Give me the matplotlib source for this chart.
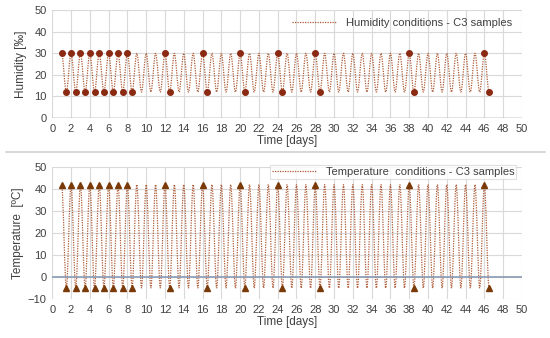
import matplotlib.pyplot as plt
from matplotlib.path import Path
from matplotlib.patches import PathPatch
from matplotlib.lines import Line2D

# cycle start days (high value at day, low value half a day later)
cycle_days = [1, 2, 3, 4, 5, 6, 7, 8, 9, 10, 11, 12, 13, 14, 15, 16, 17, 18, 19, 20,
              21, 22, 23, 24, 25, 26, 27, 28, 29, 30, 31, 32, 33, 34, 35, 36, 37, 38,
              39, 40, 41, 42, 43, 44, 45, 46]
half_day = 0.5

humidity_high = 30
humidity_low = 12
temperature_high = 42
temperature_low = -5

# days where the samples were marked
marked_days = [1, 2, 3, 4, 5, 6, 7, 8, 12, 16, 20, 24, 28, 38, 46]

x_ticks = list(range(0, 51, 2))

plt.rcParams['font.family'] = ['Liberation Sans', 'DejaVu Sans']

line_color = '#ad5a35'
circle_color = '#8b2a12'
tri_color = '#7a3a08'
axis_color = '#8a9bb5'
grid_color = '#d9d9d9'


def cycle_path(high, low):
    # smooth curve like the spreadsheet "smoothed line" option
    pts = []
    for d in cycle_days:
        pts.append((d, high))
        pts.append((d + half_day, low))
    verts = [pts[0]]
    codes = [Path.MOVETO]
    h = half_day / 3
    for (x0, y0), (x1, y1) in zip(pts[:-1], pts[1:]):
        verts += [(x0 + h, y0), (x1 - h, y1), (x1, y1)]
        codes += [Path.CURVE4] * 3
    return Path(verts, codes)


def style_axes(ax, ylim, yticks):
    ax.set_xlim(0, 50)
    ax.set_ylim(*ylim)
    ax.set_xticks(x_ticks)
    ax.set_yticks(yticks)
    ax.grid(True, color=grid_color, lw=0.8)
    ax.set_axisbelow(True)
    for s in ax.spines.values():
        s.set_visible(False)
    ax.tick_params(length=0, labelsize=8, colors='#404040', pad=4)
    ax.set_xlabel('Time [days]', fontsize=8.5, color='#404040', labelpad=1)


fig = plt.figure(figsize=(5.5, 3.38), dpi=100)

# humidity panel
ax1 = fig.add_axes([0.095, 0.651, 0.854, 0.319])
style_axes(ax1, (0, 50), [0, 10, 20, 30, 40, 50])
ax1.axhline(0, color='#7f7f7f', lw=1)
ax1.add_patch(PathPatch(cycle_path(humidity_high, humidity_low), fill=False,
                        edgecolor=line_color, lw=0.9, linestyle=(0, (1, 1))))
ax1.plot(marked_days, [humidity_high] * len(marked_days), 'o', color=circle_color, ms=4)
ax1.plot([d + half_day for d in marked_days], [humidity_low] * len(marked_days), 'o',
         color=circle_color, ms=4)
ax1.set_ylabel('Humidity [‰]', fontsize=8.5, color='#404040', labelpad=5)
h1 = Line2D([], [], color=line_color, lw=0.9, linestyle=(0, (1, 1)))
ax1.legend([h1], ['Humidity conditions - C3 samples'], loc='upper right',
           bbox_to_anchor=(1.0, 1.02), fontsize=8, frameon=False, handlelength=4,
           labelcolor='#404040')

# temperature panel
ax2 = fig.add_axes([0.095, 0.115, 0.854, 0.391])
style_axes(ax2, (-10, 50), [-10, 0, 10, 20, 30, 40, 50])
ax2.axhline(0, color=axis_color, lw=1.2)
ax2.add_patch(PathPatch(cycle_path(temperature_high, temperature_low), fill=False,
                        edgecolor=line_color, lw=0.9, linestyle=(0, (1, 1))))
ax2.plot(marked_days, [temperature_high] * len(marked_days), '^', color=tri_color, ms=5)
ax2.plot([d + half_day for d in marked_days], [temperature_low] * len(marked_days), '^',
         color=tri_color, ms=5)
ax2.set_ylabel('Temperature  [ºC]', fontsize=8.5, color='#404040', labelpad=3)
h2 = Line2D([], [], color=line_color, lw=0.9, linestyle=(0, (1, 1)))
leg = ax2.legend([h2], ['Temperature  conditions - C3 samples'], loc='upper right',
                 bbox_to_anchor=(1.0, 1.06), fontsize=8, frameon=True, handlelength=4,
                 labelcolor='#404040', fancybox=False, borderpad=0.2)
leg.get_frame().set_edgecolor(grid_color)
leg.get_frame().set_linewidth(0.8)

# separator between the two charts
fig.add_artist(Line2D([0.01, 0.99], [0.55, 0.55], color='#d0d0d0', lw=1.2))

fig.savefig('out.png', dpi=100)
